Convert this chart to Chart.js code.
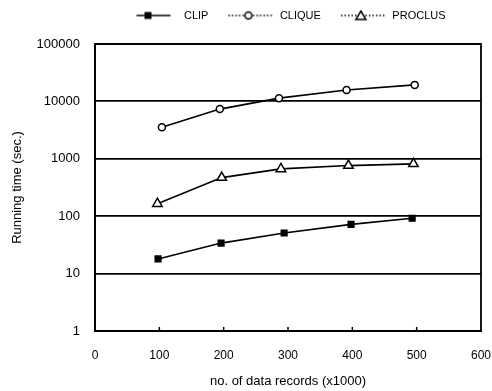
<!DOCTYPE html>
<html>
<head>
<meta charset="utf-8">
<script src="https://cdn.jsdelivr.net/npm/chart.js@4"></script>
<style>
  html, body { margin: 0; padding: 0; background: #fff; }
  #wrap { width: 492px; height: 391px; }
</style>
</head>
<body>
<div id="wrap"><canvas id="chart" width="492" height="391"></canvas></div>
<script>
// values (x in thousands of records, y in seconds)
const seriesNames = ['CLIP', 'CLIQUE', 'PROCLUS'];
const clipX = [98, 196, 294, 398, 493];
const clipY = [18, 34, 51, 72, 92];
const cliqueX = [104, 194, 286, 391, 497];
const cliqueY = [3560, 7340, 11400, 15800, 19400];
const proclusX = [97, 197, 289, 394, 495];
const proclusY = [165, 470, 667, 762, 817];
const xTicks = [0, 100, 200, 300, 400, 500, 600];
const yTicks = [1, 10, 100, 1000, 10000, 100000];

const FONT = "'Liberation Sans', Arial, sans-serif";

function points(xs, ys) {
  return xs.map((x, i) => ({ x, y: ys[i] }));
}

// little "line + marker" icons for the legend
function legendIcon(kind) {
  const c = document.createElement('canvas');
  c.width = 48;
  c.height = 12;
  const g = c.getContext('2d');
  g.strokeStyle = '#000';
  g.lineWidth = 1.5;
  if (kind !== 'square') g.setLineDash([1.5, 2]);
  g.beginPath();
  g.moveTo(kind === 'square' ? 6 : 2, 6);
  g.lineTo(kind === 'square' ? 40 : 46, 6);
  g.stroke();
  g.setLineDash([]);
  if (kind === 'square') {
    g.fillStyle = '#000';
    g.fillRect(14, 2.5, 7, 7);
  } else if (kind === 'circle') {
    g.fillStyle = '#fff';
    g.beginPath();
    g.arc(22, 6, 3.5, 0, Math.PI * 2);
    g.fill();
    g.stroke();
  } else {
    g.fillStyle = '#fff';
    g.beginPath();
    g.moveTo(22, 1.5);
    g.lineTo(27, 10);
    g.lineTo(17, 10);
    g.closePath();
    g.fill();
    g.stroke();
  }
  return c;
}

const icons = [legendIcon('square'), legendIcon('circle'), legendIcon('triangle')];

const frame = {
  id: 'frame',
  afterDraw(chart) {
    const { ctx, chartArea: a, scales } = chart;
    ctx.save();
    ctx.strokeStyle = '#000';
    ctx.lineWidth = 1.8;
    ctx.strokeRect(a.left, a.top, a.right - a.left, a.bottom - a.top);
    ctx.lineWidth = 1.5;
    xTicks.slice(1, -1).forEach(v => {
      const px = scales.x.getPixelForValue(v);
      ctx.beginPath();
      ctx.moveTo(px, a.bottom);
      ctx.lineTo(px, a.bottom - 4);
      ctx.stroke();
    });
    ctx.restore();
  }
};

const common = {
  borderColor: '#000',
  borderWidth: 1.6,
  pointBorderColor: '#000',
  pointBorderWidth: 1.5,
  tension: 0
};

new Chart(document.getElementById('chart'), {
  type: 'line',
  data: {
    datasets: [
      Object.assign({
        label: seriesNames[0],
        data: points(clipX, clipY),
        pointStyle: 'rect',
        pointRadius: 4,
        pointBackgroundColor: '#000'
      }, common),
      Object.assign({
        label: seriesNames[1],
        data: points(cliqueX, cliqueY),
        pointStyle: 'circle',
        pointRadius: 3.5,
        pointBackgroundColor: '#fff'
      }, common),
      Object.assign({
        label: seriesNames[2],
        data: points(proclusX, proclusY),
        pointStyle: 'triangle',
        pointRadius: 5.5,
        pointBackgroundColor: '#fff'
      }, common)
    ]
  },
  options: {
    responsive: false,
    animation: false,
    layout: { padding: { top: -8, right: 11, bottom: 0, left: 0 } },
    plugins: {
      tooltip: { enabled: false },
      // empty spacer box between legend and plot
      title: {
        display: true,
        text: '',
        weight: 500,
        font: { size: 10 },
        padding: { top: 1, bottom: 0 }
      },
      legend: {
        position: 'top',
        fullSize: false,
        labels: {
          usePointStyle: true,
          pointStyleWidth: 48,
          padding: 18,
          color: '#000',
          font: { family: FONT, size: 11 },
          generateLabels: chart => chart.data.datasets.map((ds, i) => ({
            text: ds.label,
            pointStyle: icons[i],
            fontColor: '#000',
            lineWidth: 0,
            hidden: false,
            datasetIndex: i
          }))
        }
      }
    },
    scales: {
      x: {
        type: 'linear',
        min: 0,
        max: 600,
        afterBuildTicks: s => { s.ticks = xTicks.map(v => ({ value: v })); },
        afterFit: s => { s.height = 60; s.paddingRight = 0; },
        grid: { display: false },
        border: { color: '#000', width: 1.8 },
        ticks: { color: '#000', padding: 9, font: { family: FONT, size: 12 } },
        title: {
          display: true,
          text: 'no. of data records (x1000)',
          color: '#000',
          font: { family: FONT, size: 13 },
          padding: { top: 4, bottom: 2 }
        }
      },
      y: {
        type: 'logarithmic',
        min: 1,
        max: 100000,
        afterBuildTicks: s => { s.ticks = yTicks.map(v => ({ value: v })); },
        afterFit: s => { s.width = 95; },
        grid: { color: '#000', lineWidth: 1.8, drawTicks: false },
        border: { color: '#000', width: 1.8 },
        ticks: {
          color: '#000',
          padding: 15,
          font: { family: FONT, size: 13 },
          callback: v => String(v)
        },
        title: {
          display: true,
          text: 'Running time (sec.)',
          color: '#000',
          font: { family: FONT, size: 13 },
          padding: { top: 10, bottom: 0 }
        }
      }
    }
  },
  plugins: [frame]
});
</script>
</body>
</html>
